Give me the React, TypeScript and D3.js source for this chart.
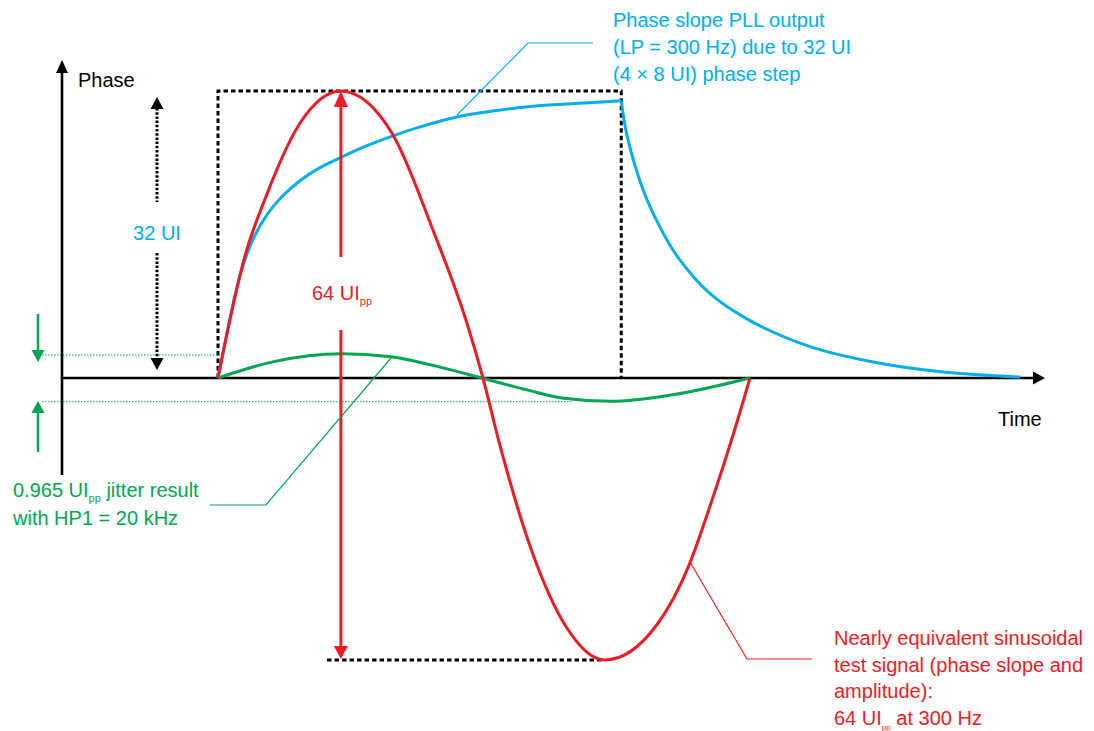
import * as d3 from 'd3';

// time in units of one test-signal period (0..100), phase in UI
const redWave: [number, number][] = [
  [0, 0], [2.8, 8], [4.7, 12.8], [9.2, 20.5], [15.4, 28.4], [23.1, 32], [32.9, 27.1], [40.4, 16.5],
  [46.8, 6.1], [49.8, 0], [52.8, -7.2], [59.2, -20], [65.4, -28.2], [72.7, -32],
  [82.5, -28], [88.7, -21], [92.5, -14.5], [96.9, -6.3], [100, 0],
];
const blueRise: [number, number][] = [
  [0, 0], [1.5, 4.5], [3, 8.7], [4.5, 12.15], [6.5, 15.35], [9.2, 18.2], [12, 20.2],
  [15.4, 22.0], [19, 23.4], [23.1, 24.6], [28, 25.9], [32.9, 27.0], [38, 28.0],
  [44.9, 29.1], [52, 29.8], [59.2, 30.3], [67, 30.6], [75.8, 30.9],
];
const blueDecay: [number, number][] = [
  [75.8, 30.9], [76.9, 27.0], [79.9, 21.0], [83.1, 16.8], [86.3, 13.6], [92.5, 9.4],
  [100, 6.4], [111.3, 3.5], [123.9, 1.7], [136.3, 0.67], [150.8, 0.1],
];
const greenJitter: [number, number][] = [
  [0, 0], [10.3, 1.8], [23.3, 2.7], [32.1, 2.4], [41.2, 1.3], [49.6, 0],
  [58.1, -1.35], [65.0, -2.3], [73.9, -2.65], [85.5, -1.9], [100, 0],
];

const stepEnd = 75.8;
const stepHeight = 32;
const sineAmp = 32;
const jitterTop = 2.56;
const jitterBottom = -2.69;

const blueNote = ['Phase slope PLL output', '(LP = 300 Hz) due to 32 UI', '(4 \u00d7 8 UI) phase step'];
const redNote = ['Nearly equivalent sinusoidal', 'test signal (phase slope and', 'amplitude):'];
const greenNote2 = 'with HP1 = 20 kHz';

const RED = '#ED1C24';
const BLUE = '#00AEEF';
const GREEN = '#00A651';
const FONT = '"Liberation Sans", Arial, sans-serif';

const x = d3.scaleLinear().domain([0, 100]).range([218, 750]);
const y = d3.scaleLinear().domain([-32, 0, 32]).range([660, 378, 91]);

const line = d3.line<[number, number]>()
  .x(d => x(d[0]))
  .y(d => y(d[1]))
  .curve(d3.curveMonotoneX);

const smooth = d3.line<[number, number]>()
  .x(d => x(d[0]))
  .y(d => y(d[1]))
  .curve(d3.curveCatmullRom.alpha(0.5));

// triangle arrow head, tip at (tx, ty)
function head(tx: number, ty: number, dir: 'up' | 'down' | 'right', len: number, hw: number) {
  if (dir === 'up') return `M${tx},${ty}L${tx - hw},${ty + len}L${tx + hw},${ty + len}Z`;
  if (dir === 'down') return `M${tx},${ty}L${tx - hw},${ty - len}L${tx + hw},${ty - len}Z`;
  return `M${tx},${ty}L${tx - len},${ty - hw}L${tx - len},${ty + hw}Z`;
}

export default function App() {
  const y0 = y(0);
  const axX0 = 62;
  const axX1 = 1045;
  const axTop = 60;
  const axBottom = 475;

  const rx0 = x(0), rx1 = x(stepEnd), rTop = y(stepHeight);
  const peakT = 23.1, troughT = 72.7;
  const arrowX = x(peakT);

  const gX = 38;

  return (
    <svg width={1094} height={731} style={{ position: 'absolute', left: 0, top: 0, background: '#fff' }}
      fontFamily={FONT}>
      {/* dashed step outline */}
      <path d={`M${rx0},${y0}V${rTop}H${rx1}V${y0}`} fill="none" stroke="#000" strokeWidth={3}
        strokeDasharray="4.5,3" />
      <line x1={x(20.5)} x2={x(troughT)} y1={y(-sineAmp)} y2={y(-sineAmp)} stroke="#000" strokeWidth={3}
        strokeDasharray="4.5,3" />

      {/* green jitter limits */}
      <line x1={42} x2={x(0.4)} y1={y(jitterTop)} y2={y(jitterTop)} stroke={GREEN} strokeWidth={1}
        strokeDasharray="1.5,1.5" />
      <line x1={42} x2={x(66.5)} y1={y(jitterBottom)} y2={y(jitterBottom)} stroke={GREEN} strokeWidth={1}
        strokeDasharray="1.5,1.5" />
      <line x1={gX} x2={gX} y1={314} y2={352} stroke={GREEN} strokeWidth={2.5} />
      <path d={head(gX, 362, 'down', 12, 6.5)} fill={GREEN} />
      <line x1={gX} x2={gX} y1={411} y2={452} stroke={GREEN} strokeWidth={2.5} />
      <path d={head(gX, 401, 'up', 12, 6.5)} fill={GREEN} />

      {/* 32 UI dotted arrow */}
      <line x1={157} x2={157} y1={108} y2={202} stroke="#000" strokeWidth={3} strokeDasharray="2.5,1.7" />
      <line x1={157} x2={157} y1={253} y2={359} stroke="#000" strokeWidth={3} strokeDasharray="2.5,1.7" />
      <path d={head(157, 97, 'up', 12, 6.5)} fill="#000" />
      <path d={head(157, 370, 'down', 12, 6.5)} fill="#000" />
      <text x={157} y={240} textAnchor="middle" fontSize={20} fill={BLUE}>32 UI</text>

      {/* axes */}
      <line x1={axX0} x2={axX0} y1={axTop + 10} y2={axBottom} stroke="#000" strokeWidth={2.6} />
      <path d={head(axX0, axTop, 'up', 13, 6)} fill="#000" />
      <line x1={axX0} x2={axX1 - 10} y1={y0} y2={y0} stroke="#000" strokeWidth={2.6} />
      <path d={head(axX1, y0, 'right', 12, 6.5)} fill="#000" />
      <text x={78} y={87} fontSize={20} fill="#000">Phase</text>
      <text x={998} y={426} fontSize={20} fill="#000">Time</text>

      {/* curves */}
      <path d={line(greenJitter) ?? ''} fill="none" stroke={GREEN} strokeWidth={3} />
      <path d={smooth(blueRise) ?? ''} fill="none" stroke={BLUE} strokeWidth={3} />
      <path d={smooth(blueDecay) ?? ''} fill="none" stroke={BLUE} strokeWidth={3} />
      <path d={line(redWave) ?? ''} fill="none" stroke={RED} strokeWidth={3} />

      {/* 64 UIpp arrow */}
      <line x1={arrowX} x2={arrowX} y1={105} y2={257} stroke={RED} strokeWidth={3} />
      <line x1={arrowX} x2={arrowX} y1={330} y2={648} stroke={RED} strokeWidth={3} />
      <path d={head(arrowX, y(sineAmp), 'up', 16, 7)} fill={RED} />
      <path d={head(arrowX, y(-sineAmp) - 1, 'down', 13, 7)} fill={RED} />
      <text x={312} y={300} fontSize={20} fill={RED}>
        64 UI<tspan fontSize={11} dy={5}>pp</tspan>
      </text>

      {/* leaders */}
      <polyline points="457,115 528,43 593,43" fill="none" stroke={BLUE} strokeWidth={1.2} />
      <polyline points="391,358 266,505 210,505" fill="none" stroke={GREEN} strokeWidth={1.2} />
      <polyline points="690,562 747,659 812,659" fill="none" stroke={RED} strokeWidth={1.2} />

      {/* notes */}
      {blueNote.map((t, i) => (
        <text key={t} x={613} y={27 + i * 27} fontSize={20} fill={BLUE}>{t}</text>
      ))}
      <text x={13} y={497} fontSize={20} fill={GREEN}>
        0.965 UI<tspan fontSize={11} dy={5}>pp</tspan><tspan dy={-5}> jitter result</tspan>
      </text>
      <text x={13} y={525} fontSize={20} fill={GREEN}>{greenNote2}</text>
      {redNote.map((t, i) => (
        <text key={t} x={834} y={645 + i * 26.7} fontSize={20} fill={RED}>{t}</text>
      ))}
      <text x={834} y={725} fontSize={20} fill={RED}>
        64 UI<tspan fontSize={8} dy={5}>pp</tspan><tspan dy={-5}> at 300 Hz</tspan>
      </text>
    </svg>
  );
}
